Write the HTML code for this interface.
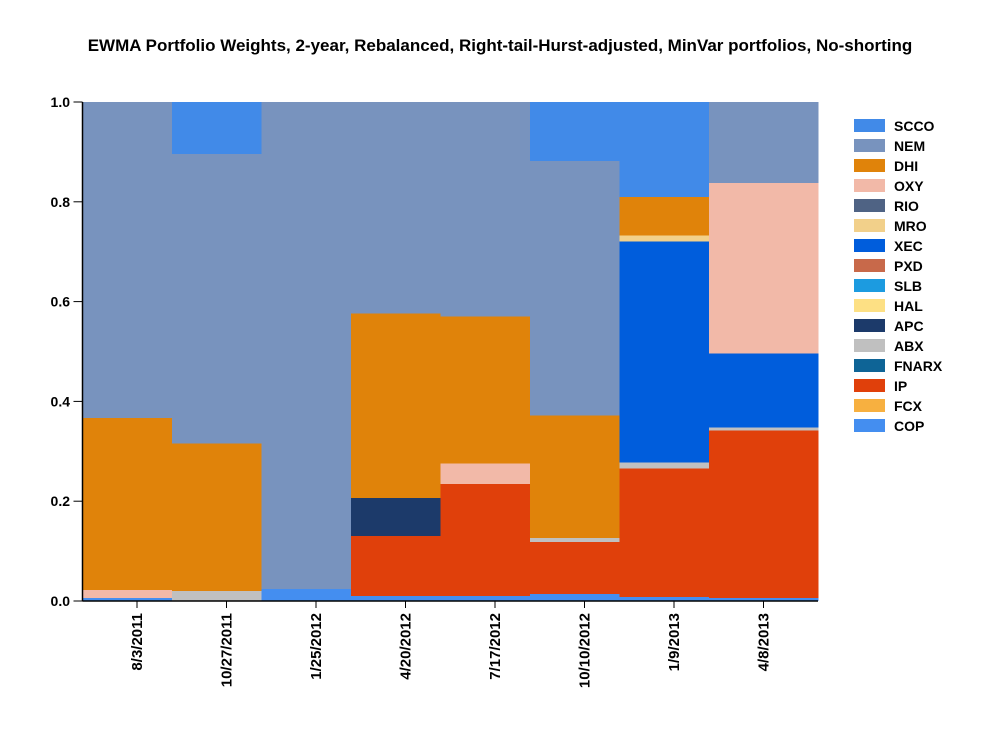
<!DOCTYPE html>
<html><head><meta charset="utf-8"><style>
body{margin:0;background:#fff;}
svg text{font-family:"Liberation Sans",Arial,sans-serif;font-weight:bold;fill:#000;}
</style></head><body>
<svg id="chart" width="1000" height="750">
<rect width="1000" height="750" fill="#fff"/>
<text x="500" y="51" text-anchor="middle" font-size="17">EWMA Portfolio Weights, 2-year, Rebalanced, Right-tail-Hurst-adjusted, MinVar portfolios, No-shorting</text>
<g id="bars" shape-rendering="crispEdges"></g><g id="axes"></g><g id="legend"></g>
</svg>
<script>
const dates=["8/3/2011","10/27/2011","1/25/2012","4/20/2012","7/17/2012","10/10/2012","1/9/2013","4/8/2013"];
const tickLabels=["0.0","0.2","0.4","0.6","0.8","1.0"];
const tickValues=[0,0.2,0.4,0.6,0.8,1.0];
const names=["SCCO","NEM","DHI","OXY","RIO","MRO","XEC","PXD","SLB","HAL","APC","ABX","FNARX","IP","FCX","COP"];
const colors=["#418ae8","#7893be","#e0830a","#f2b9a8","#4f6384","#f2d08a","#005ddc","#c8694a","#1c9be0","#fde084","#1c3a6a","#c0c0c0","#0e6496","#e0400b","#f7b040","#448ef0"];
// stacking order bottom->top
const stackOrder=["COP","IP","ABX","APC","XEC","MRO","OXY","DHI","NEM","SCCO"];
const COP=[0.006,0,0.024,0.01,0.01,0.014,0.008,0.006];
const ABX=[0,0.02,0,0,0,0.008,0.012,0.006];
const IP=[0,0,0,0.12,0.224,0.104,0.258,0.336];
const APC=[0,0,0,0.076,0,0,0,0];
const OXY=[0.016,0,0,0,0.042,0,0,0.342];
const XEC=[0,0,0,0,0,0,0.442,0.148];
const MRO=[0,0,0,0,0,0,0.012,0];
const DHI=[0.345,0.296,0,0.37,0.294,0.246,0.078,0];
const NEM=[0.633,0.58,0.976,0.424,0.43,0.51,0,0.162];
const SCCO=[0,0.104,0,0,0,0.118,0.19,0];
const series={COP,ABX,IP,APC,OXY,XEC,MRO,DHI,NEM,SCCO};
const NS="http://www.w3.org/2000/svg";
const x0=82.5,colW=89.5,x1=818,yB=601,yT=102;
const y=v=>yB-(yB-yT)*v;
const xL=i=>x0+i*colW;
const xR=i=>i===dates.length-1?x1:x0+(i+1)*colW;
function mk(t,a,p){const e=document.createElementNS(NS,t);for(const k in a)e.setAttribute(k,a[k]);p.appendChild(e);return e;}
const gb=document.getElementById('bars');
dates.forEach((d,i)=>{let cum=0;stackOrder.forEach(n=>{const v=series[n][i];if(v>0){const r=mk('rect',{x:xL(i),y:y(cum+v),width:xR(i)-xL(i)+0.5,height:y(cum)-y(cum+v),fill:colors[names.indexOf(n)]},gb);

}cum+=v;});});
const ga=document.getElementById('axes');
mk('line',{x1:x0,y1:yT,x2:x0,y2:yB,stroke:'#000','stroke-width':1.5},ga);
mk('line',{x1:x0,y1:yB,x2:x1,y2:yB,stroke:'#000','stroke-width':1.5},ga);
tickValues.forEach((v,i)=>{mk('line',{x1:x0-9,y1:y(v),x2:x0,y2:y(v),stroke:'#000'},ga);
const t=mk('text',{x:70,y:y(v)+5,'text-anchor':'end','font-size':14},ga);t.textContent=tickLabels[i];

});
dates.forEach((d,i)=>{const cx=x0+54.5+i*89.5;mk('line',{x1:cx,y1:yB,x2:cx,y2:yB+7,stroke:'#000'},ga);
const t=mk('text',{x:0,y:0,'text-anchor':'end','font-size':15,transform:`translate(${cx+5},${yB+12}) rotate(-90)`},ga);t.textContent=d;

});
const gl=document.getElementById('legend');
names.forEach((n,i)=>{const g=mk('g',{},gl);


mk('rect',{x:854,y:119+i*20,width:31,height:13,fill:colors[i]},g);
const t=mk('text',{x:894,y:131+i*20,'font-size':14},g);t.textContent=n;});
</script>
</body></html>
